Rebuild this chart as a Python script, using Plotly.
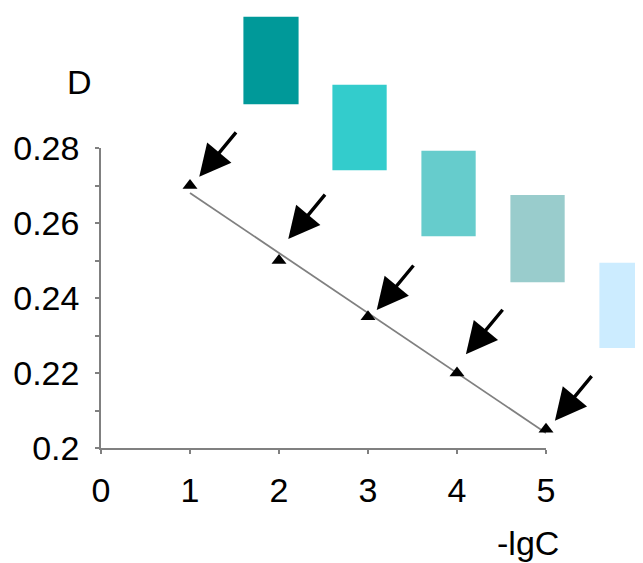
import numpy as np
import plotly.graph_objects as go

# ---- data ----
x_vals = [1, 2, 3, 4, 5]
d_vals = [0.27, 0.25, 0.235, 0.22, 0.205]
x_ticks = [0, 1, 2, 3, 4, 5]
y_ticks = [0.20, 0.21, 0.22, 0.23, 0.24, 0.25, 0.26, 0.27, 0.28]
y_ticktext = ["0.2", "", "0.22", "", "0.24", "", "0.26", "", "0.28"]

# arrow head positions (data units)
arrow_x = [1.104, 2.104, 3.098, 4.10, 5.10]
arrow_y = [0.2723, 0.2557, 0.2368, 0.2250, 0.2073]

# colour swatches (data units: left, right, bottom, top)
swatch_colors = ["#009999", "#33CCCC", "#66CCCC", "#99CCCC", "#CCECFF"]
swatch_x0 = [1.60, 2.60, 3.60, 4.60, 5.60]
swatch_x1 = [2.22, 3.21, 4.21, 5.21, 6.30]
swatch_y0 = [0.2917, 0.2741, 0.2565, 0.2442, 0.2267]
swatch_y1 = [0.3150, 0.2969, 0.2793, 0.2675, 0.2494]

XR = (0, 5)
YR = (0.2, 0.28)
FONT = "Liberation Sans, Arial, sans-serif"
FS = 34

# linear trend line
slope, intercept = np.polyfit(x_vals, d_vals, 1)
trend_x = [x_vals[0], x_vals[-1]]
trend_y = [slope * v + intercept for v in trend_x]

fig = go.Figure()
fig.add_trace(go.Scatter(x=trend_x, y=trend_y, mode="lines",
                         line=dict(color="#808080", width=1.8),
                         showlegend=False, hoverinfo="skip", cliponaxis=False))
fig.add_trace(go.Scatter(x=x_vals, y=d_vals, mode="markers",
                         marker=dict(symbol="triangle-up", size=13, color="black"),
                         showlegend=False, cliponaxis=False))

def px(v):
    return (v - XR[0]) / (XR[1] - XR[0])

def py(v):
    return (v - YR[0]) / (YR[1] - YR[0])

shapes = []
for c, a, b, c0, c1 in zip(swatch_colors, swatch_x0, swatch_x1, swatch_y0, swatch_y1):
    shapes.append(dict(type="rect", xref="paper", yref="paper",
                       x0=px(a), x1=px(b), y0=py(c0), y1=py(c1),
                       fillcolor=c, line=dict(width=0), layer="below"))

annotations = []
for hx, hy in zip(arrow_x, arrow_y):
    # paper reference so the arrow past x=5 is not hidden
    annotations.append(dict(x=px(hx), y=py(hy), xref="paper", yref="paper", text="",
                            showarrow=True, ax=38, ay=-46, axref="pixel", ayref="pixel",
                            arrowhead=2, arrowsize=1.85, arrowwidth=3.4,
                            arrowcolor="black", standoff=0))
annotations.append(dict(x=px(-0.236), y=py(0.2977), xref="paper", yref="paper",
                        text="D", showarrow=False, xanchor="center", yanchor="middle",
                        font=dict(family=FONT, size=FS, color="black")))
annotations.append(dict(x=px(4.80), y=py(0.1747), xref="paper", yref="paper",
                        text="-lgC", showarrow=False, xanchor="center", yanchor="middle",
                        font=dict(family=FONT, size=FS, color="black")))

# page body has an 8px margin, so the figure is drawn 8px smaller and shifted
fig.update_layout(
    width=635, height=555,
    margin=dict(l=93, r=97, t=140, b=115, autoexpand=False),
    paper_bgcolor="white", plot_bgcolor="white",
    shapes=shapes, annotations=annotations,
    font=dict(family=FONT, size=FS, color="black"),
)
fig.update_xaxes(range=list(XR), tickvals=x_ticks, ticktext=[str(t) for t in x_ticks],
                 showgrid=False, zeroline=False, showline=True, linecolor="#808080",
                 linewidth=1.5, ticks="outside", ticklen=4, tickcolor="#808080",
                 tickwidth=1.5, ticklabelstandoff=7, automargin=False)
fig.update_yaxes(range=list(YR), tickvals=y_ticks, ticktext=y_ticktext,
                 showgrid=False, zeroline=False, showline=True, linecolor="#808080",
                 linewidth=1.5, ticks="outside", ticklen=4, tickcolor="#808080",
                 tickwidth=1.5, ticklabelstandoff=9, automargin=False)

fig.write_html("out.html")
